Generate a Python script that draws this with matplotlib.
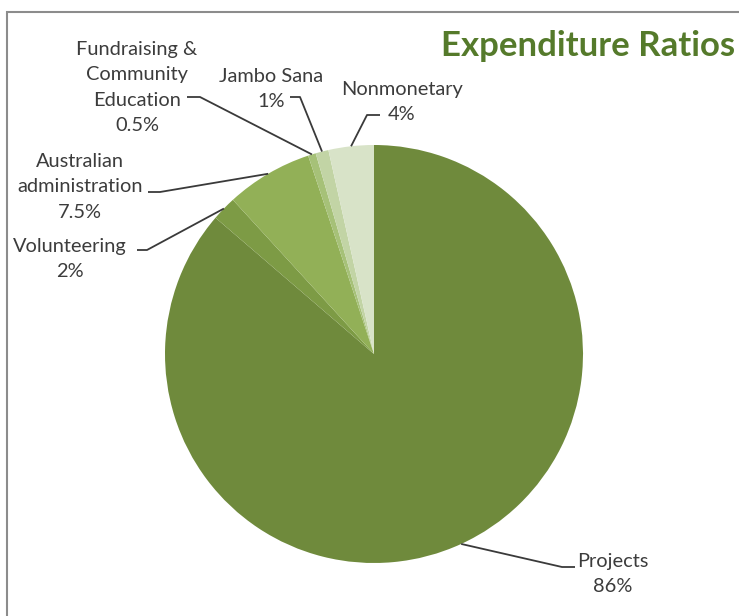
import numpy as np
import matplotlib
matplotlib.use("Agg")
import matplotlib.pyplot as plt
from matplotlib.patches import Rectangle

categories = ["Projects", "Volunteering", "Australian\nadministration",
              "Fundraising &\nCommunity\nEducation", "Jambo Sana", "Nonmonetary"]
values = [86.3, 1.9, 6.7, 0.6, 1.0, 3.5]
pct_labels = ["86%", "2%", "7.5%", "0.5%", "1%", "4%"]
colors = ["#6F8A3C", "#7D9B45", "#92B057", "#A6C178", "#C2D4A5", "#D8E3C8"]

W, H = 739, 616
fig = plt.figure(figsize=(W / 100, H / 100), dpi=100)
fig.patch.set_facecolor("white")

# chart frame
fig.patches.append(Rectangle((6.5 / W, -0.1), 1.2, (H - 12) / H + 0.1,
                             transform=fig.transFigure, fill=False,
                             edgecolor="#8C8C8C", linewidth=1.5))

cx, cy, r = 374, 354, 209
ax = fig.add_axes([(cx - r) / W, (H - cy - r) / H, 2 * r / W, 2 * r / H])

wedges, _ = ax.pie(values, colors=colors, startangle=90, counterclock=False,
                   radius=1, wedgeprops=dict(linewidth=0))
ax.set_xlim(-1, 1)
ax.set_ylim(-1, 1)
ax.set_aspect("equal")
ax.axis("off")

def px(x, y):
    return ((x - cx) / r, (cy - y) / r)

# label layout: (text center x, text top y, knee start x, knee end x, knee y)
layout = [
    (613, 553, 575, 562, 567),
    (70, 238, 137, 147, 250),
    (80, 153, 148, 160, 192),
    (137, 41, 187, 200, 97),
    (271, 68, 290, 300, 97),
    (402, 81, 380, 367, 115),
]

font = "Lato"
for w, cat, pl, (tx, ty, k0, k1, ky) in zip(wedges, categories, pct_labels, layout):
    ang = np.deg2rad((w.theta1 + w.theta2) / 2)
    ex, ey = np.cos(ang), np.sin(ang)
    kx0, ky0 = px(k0, ky)
    kx1, _ = px(k1, ky)
    ax.plot([kx0, kx1, ex], [ky0, ky0, ey], color="#3A3A3A", lw=1.3,
            clip_on=False, solid_capstyle="butt")
    txt = cat + "\n" + pl
    x_d, y_d = px(tx, ty)
    ax.text(x_d, y_d, txt, ha="center", va="top", fontsize=14.4,
            family=font, color="#3C3C3C", linespacing=1.6,
            transform=ax.transData, clip_on=False)

fig.text(735 / W, 1 - 46 / H, "Expenditure Ratios", ha="right", va="center",
         fontsize=25, fontweight="bold", family=font, color="#557A2B")

fig.savefig("out.png", dpi=100, facecolor="white")
